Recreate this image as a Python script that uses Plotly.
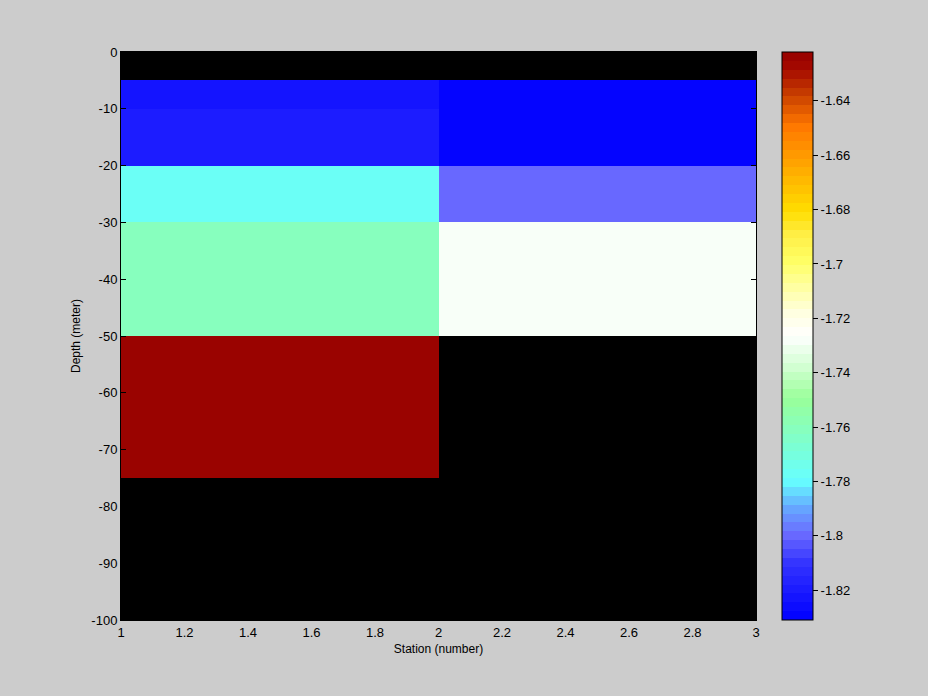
import numpy as np
import plotly.graph_objects as go

# Data
station_edges = [1, 2, 3]
depth_edges = [0, -5, -10, -20, -30, -50, -75, -100]
# rows: depth layers (top to bottom), cols: station cells
temp_station1 = [None, -1.823, -1.819, -1.776, -1.760, -1.623, None]
temp_station2 = [None, -1.831, -1.828, -1.800, -1.728, None, None]
depth_ticks = list(range(-100, 1, 10))
depth_labels = [str(v) for v in depth_ticks]
station_ticks = [1, 1.2, 1.4, 1.6, 1.8, 2, 2.2, 2.4, 2.6, 2.8, 3]
station_labels = ["1", "1.2", "1.4", "1.6", "1.8", "2", "2.2", "2.4", "2.6", "2.8", "3"]
cbar_ticks = [-1.82, -1.80, -1.78, -1.76, -1.74, -1.72, -1.70, -1.68, -1.66, -1.64]
cbar_labels = ["-1.82", "-1.8", "-1.78", "-1.76", "-1.74", "-1.72", "-1.7", "-1.68", "-1.66", "-1.64"]
zmin, zmax = -1.831, -1.622

z = [[a if a is not None else np.nan, b if b is not None else np.nan]
     for a, b in zip(temp_station1, temp_station2)]

# custom colormap anchors (fraction, rgb)
anchors = [
    (0.00, (0, 0, 255)),
    (0.10, (51, 51, 255)),
    (0.15, (106, 106, 255)),
    (0.20, (102, 170, 255)),
    (0.245, (102, 255, 255)),
    (0.34, (136, 255, 187)),
    (0.39, (153, 255, 153)),
    (0.44, (204, 255, 204)),
    (0.50, (255, 255, 255)),
    (0.54, (255, 255, 224)),
    (0.63, (255, 255, 102)),
    (0.68, (255, 238, 68)),
    (0.72, (255, 221, 0)),
    (0.82, (255, 153, 0)),
    (0.87, (255, 119, 0)),
    (0.92, (204, 68, 0)),
    (0.97, (165, 10, 0)),
    (1.00, (150, 0, 0)),
]
fr = [a[0] for a in anchors]
n = 64
cols = []
for i in range(n):
    t = (i + 0.5) / n
    rgb = [int(round(np.interp(t, fr, [a[1][k] for a in anchors]))) for k in range(3)]
    cols.append("rgb(%d,%d,%d)" % tuple(rgb))
cscale = []
for i, c in enumerate(cols):
    cscale.append([i / n, c])
    cscale.append([(i + 1) / n, c])

font = dict(family="Liberation Sans, Arial, sans-serif", size=12, color="black")
tfont = dict(family="Liberation Sans, Arial, sans-serif", size=13, color="black")

fig = go.Figure(go.Heatmap(
    x=station_edges, y=depth_edges, z=z,
    zmin=zmin, zmax=zmax, colorscale=cscale,
    hoverongaps=False,
    colorbar=dict(
        x=(782 - 121) / 635, xanchor="left", xpad=0, ypad=0,
        y=0, yanchor="bottom", len=1, lenmode="fraction",
        thickness=31, thicknessmode="pixels",
        outlinecolor="black", outlinewidth=1,
        tickvals=cbar_ticks, ticktext=cbar_labels,
        ticks="outside", ticklen=5, tickcolor="black",
        tickfont=tfont,
    ),
))

fig.update_layout(
    width=928, height=696,
    margin=dict(l=121, r=172, t=52, b=76),
    paper_bgcolor="#cccccc", plot_bgcolor="black",
    font=font,
)
fig.update_xaxes(
    range=[1, 3], tickvals=station_ticks, ticktext=station_labels, tickfont=tfont,
    ticks="inside", ticklen=5, tickcolor="black", showgrid=False, zeroline=False,
    showline=True, linecolor="black", linewidth=1, mirror="ticks",
    title=dict(text="Station (number)", font=font, standoff=6),
)
fig.update_yaxes(
    range=[-100, 0], tickvals=depth_ticks, ticktext=depth_labels, tickfont=tfont,
    ticks="inside", ticklen=5, tickcolor="black", showgrid=False, zeroline=False,
    showline=True, linecolor="black", linewidth=1, mirror="ticks",
    title=dict(text="Depth (meter)", font=font, standoff=8),
)

fig.write_html("out.html", config={"displayModeBar": False},
               post_script="document.body.style.margin='0';document.body.style.background='#cccccc';")
